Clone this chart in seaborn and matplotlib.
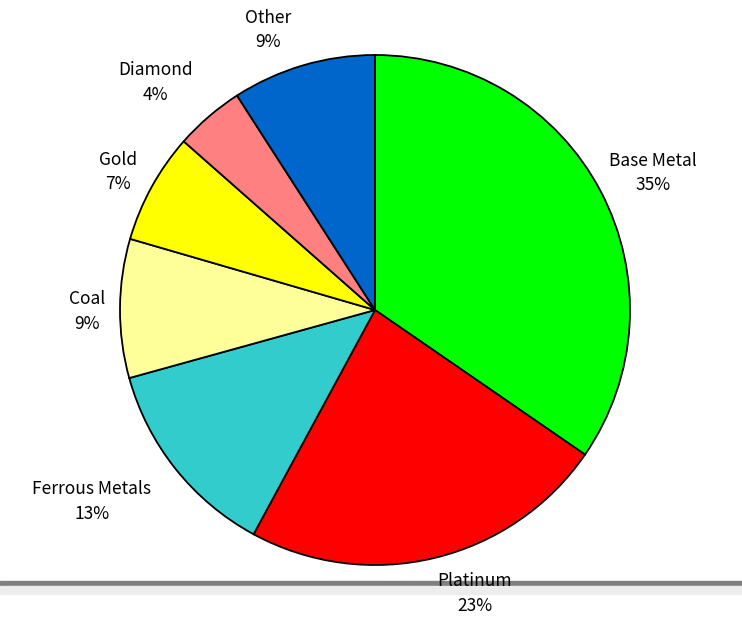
import numpy as np
import seaborn as sns
import matplotlib.pyplot as plt
from matplotlib.patches import Rectangle

sns.set_theme(style="white")
plt.rcParams['font.family'] = ['Noto Sans CJK JP', 'DejaVu Sans']

categories = ["Base Metal", "Platinum", "Ferrous Metals", "Coal", "Gold", "Diamond", "Other"]
shares = [34.6, 23.3, 12.8, 8.8, 7.0, 4.4, 9.1]
colors = ["#00FF00", "#FF0000", "#33CCCC", "#FFFF99", "#FFFF00", "#FF8080", "#0066CC"]
# label placement: distance (in radii) and angle shift from the wedge bisector
label_dist = [1.215, 1.18, 1.34, 1.13, 1.145, 1.24, 1.175]
label_shift = [-1.5, 5.9, -4.5, 0.6, 0.6, 3.3, 4.5]

fig = plt.figure(figsize=(7.42, 6.2), dpi=100)
ax = fig.add_axes([0, 0, 1, 1])

wedges, _ = ax.pie(shares, colors=colors, startangle=90, counterclock=False,
                   wedgeprops=dict(edgecolor="black", linewidth=1.3))

for w, name, val, d, s in zip(wedges, categories, shares, label_dist, label_shift):
    mid = np.deg2rad((w.theta1 + w.theta2) / 2 + s)
    ax.text(d * np.cos(mid), d * np.sin(mid), f"{name}\n{val:.0f}%", color="black",
            ha="center", va="center", fontsize=12.5, linespacing=1.48, zorder=5)

# pie centre at (375, 310) px, radius 255 px
r = 255
ax.set_xlim(-375 / r, (742 - 375) / r)
ax.set_ylim(-(620 - 310) / r, 310 / r)
ax.set_aspect("auto")
ax.axis("off")

# grey rule at the bottom of the screenshot
fig.patches.append(Rectangle((0, 34 / 620), 1, 5 / 620, transform=fig.transFigure,
                             color="#808080", zorder=-2))
fig.patches.append(Rectangle((0, 26 / 620), 1, 8 / 620, transform=fig.transFigure,
                             color="#EDEDED", zorder=-2))

fig.savefig("out.png", dpi=100)
